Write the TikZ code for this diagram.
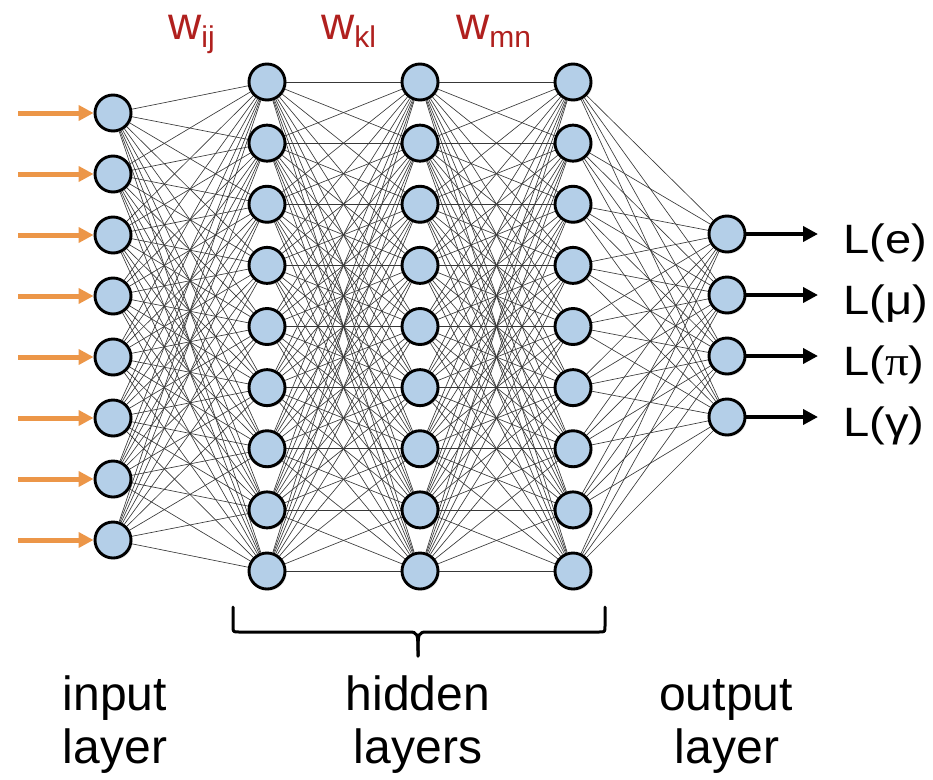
\documentclass[tikz,border=0pt]{standalone}
\usepackage{fontspec}
\setmainfont{Liberation Sans}
\newfontfamily\greekserif{Liberation Serif}
\usetikzlibrary{arrows.meta,shadows,backgrounds}
\definecolor{nodefill}{RGB}{180,207,232}
\definecolor{inorange}{RGB}{236,150,72}
\definecolor{wred}{RGB}{176,32,30}
\tikzset{
  neuron/.style={circle, draw=black, line width=2.9pt, fill=nodefill,
    minimum size=36pt, inner sep=0pt,
    drop shadow={shadow xshift=1.6pt, shadow yshift=-1.6pt, opacity=0.28}},
  synapse/.style={draw=black!78, line width=0.65pt},
  inarrow/.style={draw=inorange, line width=5pt, -{Triangle[length=15pt,width=15pt]}},
  outarrow/.style={draw=black, line width=4pt, -{Triangle[length=15pt,width=15pt]}},
  layerlabel/.style={font=\fontsize{48}{53}\selectfont, inner sep=0pt},
  outlabel/.style={font=\fontsize{41}{44}\selectfont, inner sep=0pt},
  weightlabel/.style={font=\fontsize{46}{48}\selectfont, text=wred, inner sep=0pt},
  bracestroke/.style={draw=black, line width=3pt, line cap=round, line join=round}
}
\newcommand{\subw}[1]{\raisebox{-8pt}{\fontsize{30}{30}\selectfont #1}}
\begin{document}
\begin{tikzpicture}[x=1pt,y=-1pt]
\useasboundingbox (0,0) rectangle (933,779);

% input layer
\foreach \i in {1,...,8}
  \node[neuron] (a\i) at (113,{113+61*(\i-1)}) {};
% three hidden layers
\foreach \i in {1,...,9} {
  \node[neuron] (b\i) at (267,{82+61.125*(\i-1)}) {};
  \node[neuron] (c\i) at (420,{82+61.125*(\i-1)}) {};
  \node[neuron] (d\i) at (573,{82+61.125*(\i-1)}) {};
}
% output layer
\foreach \i in {1,...,4}
  \node[neuron] (e\i) at (727,{234+61*(\i-1)}) {};

% fully connected weights, behind the neurons
\begin{pgfonlayer}{background}
  \foreach \i in {1,...,8}
    \foreach \j in {1,...,9}
      \draw[synapse] (a\i) -- (b\j);
  \foreach \i in {1,...,9}
    \foreach \j in {1,...,9} {
      \draw[synapse] (b\i) -- (c\j);
      \draw[synapse] (c\i) -- (d\j);
    }
  \foreach \i in {1,...,9}
    \foreach \j in {1,...,4}
      \draw[synapse] (d\i) -- (e\j);
\end{pgfonlayer}

% inputs
\foreach \i in {1,...,8} {
  \coordinate (s\i) at (18,{113+61*(\i-1)});
  \draw[inarrow] (s\i) -- (a\i.west);
}
% outputs
\foreach \i in {1,...,4} {
  \coordinate (t\i) at (818,{234+61*(\i-1)});
  \draw[outarrow] (e\i.east) -- (t\i);
}
\node[outlabel, anchor=base west] (L1) at (843,253) {\scalebox{1.15}[1]{L(e)}};
\node[outlabel, anchor=base west] (L2) at (843,314) {\scalebox{1.15}[1]{L(μ)}};
\node[outlabel, anchor=base west] (L3) at (843,375) {\scalebox{1.15}[1]{L({\greekserif π})}};
\node[outlabel, anchor=base west] (L4) at (843,436) {\scalebox{1.15}[1]{L(γ)}};

% weight labels
\node[weightlabel, anchor=base west] (wij) at (168,39) {w\subw{ij}};
\node[weightlabel, anchor=base west] (wkl) at (321,39) {w\subw{kl}};
\node[weightlabel, anchor=base west] (wmn) at (456,39) {w\subw{mn}};

% brace under the hidden layers
\draw[bracestroke] (233,607) -- (233,626) .. controls (233,632) .. (239,632)
  -- (408,632) .. controls (418,632) .. (418,656);
\draw[bracestroke] (605,607) -- (605,626) .. controls (605,632) .. (599,632)
  -- (428,632) .. controls (418,632) .. (418,656);

% layer captions
\node[layerlabel, anchor=base] (in1) at (115,710) {input};
\node[layerlabel, anchor=base] (in2) at (115,763) {layer};
\node[layerlabel, anchor=base] (hid1) at (418,710) {hidden};
\node[layerlabel, anchor=base] (hid2) at (418,763) {layers};
\node[layerlabel, anchor=base] (out1) at (726,710) {output};
\node[layerlabel, anchor=base] (out2) at (727,763) {layer};
\end{tikzpicture}
\end{document}
